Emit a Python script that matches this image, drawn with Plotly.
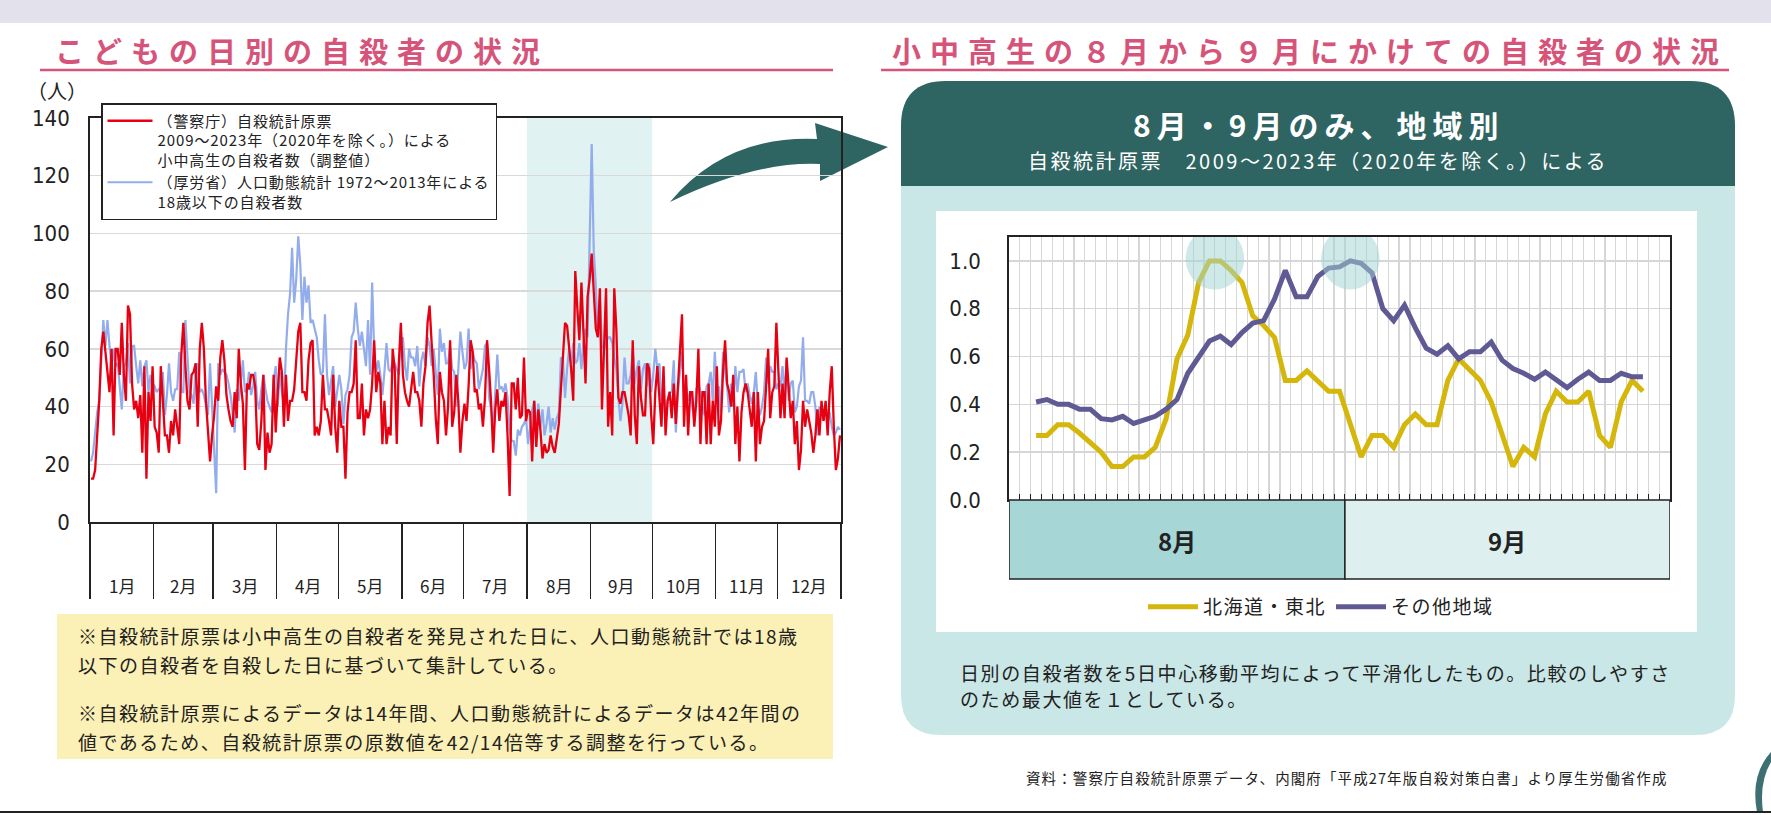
import numpy as np
import plotly.graph_objects as go

W, H = 1771, 815

# ---- left chart: daily suicides of children (Jan 1 .. Dec 31, leap year) ----
month_labels = ["1月", "2月", "3月", "4月", "5月", "6月",
                "7月", "8月", "9月", "10月", "11月", "12月"]
month_days = [31, 29, 31, 30, 31, 30, 31, 31, 30, 31, 30, 31]

# (警察庁) 自殺統計原票 2009-2023, adjusted
police_daily = [
    15, 15, 18, 31, 42, 60, 66, 59, 51, 45, 60, 30, 60, 60, 51, 69, 51, 42, 75, 72,
    48, 39, 42, 36, 44, 24, 54, 15, 45, 35, 54, 33, 31, 24, 54, 40, 30, 30, 24, 35,
    30, 39, 33, 27, 58, 69, 54, 42, 39, 51, 52, 55, 33, 60, 69, 60, 42, 33, 21, 30,
    37, 47, 42, 57, 63, 56, 44, 39, 35, 33, 45, 36, 60, 48, 41, 18, 48, 46, 51, 51,
    47, 27, 25, 35, 51, 18, 31, 24, 27, 51, 31, 45, 57, 52, 33, 51, 35, 42, 42, 46,
    56, 66, 69, 45, 45, 42, 56, 62, 63, 30, 33, 30, 35, 51, 39, 39, 35, 30, 51, 33,
    24, 42, 33, 33, 15, 38, 45, 45, 48, 63, 36, 36, 48, 30, 39, 36, 39, 48, 63, 45,
    52, 48, 27, 42, 27, 33, 30, 60, 53, 27, 55, 69, 51, 45, 42, 40, 46, 52, 45, 45,
    42, 33, 48, 54, 69, 75, 62, 51, 36, 27, 52, 45, 42, 30, 40, 63, 33, 38, 51, 42,
    24, 35, 41, 35, 47, 63, 59, 45, 46, 39, 41, 33, 43, 63, 53, 41, 24, 39, 46, 35,
    42, 40, 45, 30, 9, 48, 48, 39, 50, 36, 37, 57, 35, 39, 38, 21, 42, 26, 39, 32,
    22, 27, 24, 25, 30, 26, 24, 29, 34, 46, 60, 69, 68, 61, 53, 42, 87, 74, 63, 83,
    67, 48, 78, 84, 93, 82, 67, 64, 81, 39, 62, 81, 33, 45, 30, 81, 67, 43, 41, 45,
    45, 41, 37, 30, 63, 37, 27, 54, 43, 37, 37, 55, 53, 37, 27, 45, 54, 43, 33, 54,
    30, 42, 45, 36, 48, 34, 49, 59, 72, 33, 51, 30, 45, 45, 33, 42, 60, 27, 45, 45,
    27, 48, 27, 42, 33, 54, 30, 35, 52, 63, 48, 45, 40, 51, 27, 40, 21, 38, 45, 48,
    45, 38, 33, 45, 21, 45, 27, 33, 35, 47, 60, 36, 45, 47, 69, 52, 36, 48, 36, 57,
    45, 36, 42, 27, 35, 18, 25, 42, 33, 39, 35, 31, 24, 30, 39, 30, 42, 35, 42, 30,
    45, 54, 33, 18, 22, 30,
]

# (厚労省) 人口動態統計 1972-2013, age 18 and under
vital_daily = [
    21, 24, 31, 38, 42, 59, 70, 61, 70, 61, 54, 60, 54, 55, 46, 39, 54, 55, 62, 48,
    61, 61, 54, 48, 56, 47, 54, 56, 45, 51, 48, 47, 45, 46, 45, 52, 37, 44, 55, 45,
    42, 46, 46, 59, 45, 45, 70, 55, 45, 44, 41, 54, 55, 45, 46, 44, 40, 37, 55, 40,
    24, 10, 55, 51, 53, 52, 51, 48, 44, 38, 31, 46, 42, 48, 56, 45, 46, 52, 44, 47,
    52, 42, 39, 46, 51, 46, 42, 40, 38, 49, 54, 40, 52, 45, 40, 60, 72, 79, 95, 76,
    84, 99, 89, 70, 85, 76, 82, 69, 70, 67, 64, 56, 51, 52, 72, 51, 44, 49, 54, 40,
    45, 51, 46, 34, 44, 46, 51, 64, 66, 76, 67, 61, 66, 59, 54, 70, 51, 83, 59, 52,
    56, 51, 44, 52, 62, 53, 52, 56, 55, 53, 51, 63, 64, 54, 49, 60, 57, 57, 54, 61,
    47, 56, 59, 54, 64, 61, 54, 60, 52, 44, 67, 59, 62, 55, 55, 61, 53, 52, 40, 52,
    66, 59, 53, 55, 67, 53, 59, 56, 55, 46, 50, 53, 61, 62, 43, 39, 32, 46, 58, 46,
    47, 45, 48, 43, 32, 28, 28, 23, 32, 30, 33, 34, 36, 27, 34, 39, 42, 32, 41, 33,
    39, 30, 34, 40, 31, 36, 32, 36, 38, 57, 56, 43, 53, 60, 55, 62, 55, 56, 62, 53,
    62, 67, 64, 93, 131, 94, 82, 64, 77, 61, 60, 62, 64, 64, 62, 57, 53, 43, 35, 41,
    57, 48, 48, 51, 60, 48, 53, 56, 46, 53, 55, 47, 55, 45, 51, 60, 53, 55, 42, 46,
    35, 42, 45, 45, 56, 31, 45, 52, 59, 45, 47, 42, 45, 40, 35, 46, 48, 45, 40, 37,
    47, 48, 52, 42, 59, 45, 47, 38, 59, 52, 47, 38, 48, 40, 54, 45, 52, 52, 53, 45,
    48, 44, 41, 45, 52, 40, 37, 40, 45, 57, 48, 54, 52, 52, 46, 48, 47, 54, 44, 56,
    42, 48, 49, 38, 40, 47, 49, 64, 42, 42, 41, 45, 45, 40, 30, 40, 37, 35, 40, 35,
    38, 33, 30, 31, 33, 32,
]

# ---- right chart: Aug-Sep, 5-day centred moving average, max = 1 ----
period_labels = ["8月", "9月"]
period_days = [31, 30]
window = 5
hokkaido_tohoku = [
    0.27, 0.27, 0.315, 0.315, 0.28, 0.24, 0.20, 0.14, 0.14, 0.18,
    0.18, 0.22, 0.34, 0.59, 0.69, 0.91, 1.0, 1.0, 0.96, 0.91,
    0.77, 0.73, 0.68, 0.50, 0.50, 0.54, 0.50, 0.455, 0.455, 0.32,
    0.18, 0.27, 0.27, 0.22, 0.315, 0.36, 0.315, 0.315, 0.50, 0.59,
    0.545, 0.50, 0.41, 0.28, 0.14, 0.22, 0.18, 0.36, 0.455, 0.41,
    0.41, 0.455, 0.27, 0.22, 0.41, 0.50, 0.455,
]
other_regions = [
    0.41, 0.42, 0.40, 0.40, 0.38, 0.38, 0.34, 0.335, 0.35, 0.32,
    0.335, 0.35, 0.38, 0.42, 0.53, 0.60, 0.665, 0.685, 0.65, 0.70,
    0.74, 0.75, 0.84, 0.96, 0.85, 0.85, 0.935, 0.97, 0.975, 1.0,
    0.99, 0.95, 0.80, 0.75, 0.815, 0.72, 0.635, 0.61, 0.645, 0.59,
    0.62, 0.62, 0.66, 0.585, 0.55, 0.53, 0.505, 0.535, 0.505, 0.47,
    0.505, 0.535, 0.50, 0.50, 0.53, 0.515, 0.515,
]

JP = "Noto Sans CJK JP, sans-serif"
NARROW = "Liberation Sans Narrow, DejaVu Sans Condensed, sans-serif"
PINK = "#D6547A"
TEAL_DARK = "#2E6461"


def ls(text, px):
    # letter spaced text, line by line
    return "<br>".join('<span style="letter-spacing:%spx">%s</span>' % (px, t)
                       for t in text.split("<br>"))


def rounded(x0, y0, x1, y1, rt, rb, top_only=False):
    p = "M%s,%s Q%s,%s %s,%s L%s,%s Q%s,%s %s,%s " % (
        x0, y0 + rt, x0, y0, x0 + rt, y0, x1 - rt, y0, x1, y0, x1, y0 + rt)
    if top_only:
        return p + "L%s,%s L%s,%s Z" % (x1, y1, x0, y1)
    return p + "L%s,%s Q%s,%s %s,%s L%s,%s Q%s,%s %s,%s Z" % (
        x1, y1 - rb, x1, y1, x1 - rb, y1, x0 + rb, y1, x0, y1, x0, y1 - rb)


bounds = np.concatenate([[0], np.cumsum(month_days)])
day_x = np.arange(len(police_daily)) + 0.5

p_bounds = np.concatenate([[0], np.cumsum(period_days)]) + 0.5
first_day = window // 2 + 1
rx = first_day + np.arange(len(hokkaido_tohoku))

fig = go.Figure()

# canvas axis (pixel coordinates) for decorations
fig.add_trace(go.Scatter(x=[0], y=[0], xaxis="x", yaxis="y", mode="markers",
                         marker=dict(opacity=0), showlegend=False, hoverinfo="skip"))

fig.add_trace(go.Scatter(x=day_x, y=vital_daily, xaxis="x2", yaxis="y2", mode="lines",
                         line=dict(color="#93ACEB", width=2.2), legend="legend", legendrank=2,
                         name=ls("（厚労省）人口動態統計 1972～2013年による<br>18歳以下の自殺者数", 0.9)))
fig.add_trace(go.Scatter(x=day_x, y=police_daily, xaxis="x2", yaxis="y2", mode="lines",
                         line=dict(color="#E60012", width=2.3), legend="legend", legendrank=1,
                         name=ls("（警察庁）自殺統計原票<br>2009～2023年（2020年を除く。）による<br>"
                                 "小中高生の自殺者数（調整値）", 0.9)))

fig.add_trace(go.Scatter(x=rx, y=hokkaido_tohoku, xaxis="x3", yaxis="y3", mode="lines",
                         line=dict(color="#D5B60A", width=5), legend="legend2",
                         name=ls("北海道・東北", 1.5)))
fig.add_trace(go.Scatter(x=rx, y=other_regions, xaxis="x3", yaxis="y3", mode="lines",
                         line=dict(color="#5F5A94", width=5), legend="legend2",
                         name=ls("その他地域", 1.5)))

shapes = [
    dict(type="rect", x0=0, y0=0, x1=W, y1=23, fillcolor="#E3E2EC"),
    dict(type="line", x0=40, y0=70, x1=833, y1=70, line=dict(color=PINK, width=2.5)),
    dict(type="line", x0=881, y0=70, x1=1729, y1=70, line=dict(color=PINK, width=2.5)),
    dict(type="rect", x0=57, y0=614, x1=833, y1=759, fillcolor="#FBF0B5"),
    dict(type="path", path=rounded(901, 81, 1735, 735, 45, 40), fillcolor="#C9E7E6"),
    dict(type="path", path=rounded(901, 81, 1735, 186, 45, 0, top_only=True), fillcolor=TEAL_DARK),
    dict(type="rect", x0=936, y0=211, x1=1697, y1=632, fillcolor="white"),
    dict(type="path", path="M670,202 Q726,135 817,139 L815,123 L888,147 L820,181 "
                           "L820,164 Q755,161 670,202 Z", fillcolor=TEAL_DARK),
    dict(type="path", path="M1771,752 Q1750,775 1757,812 L1763,812 Q1759,782 1771,762 Z",
         fillcolor="#3E6F73"),
    dict(type="line", x0=0, y0=812, x1=W, y1=812, line=dict(color="#222", width=2)),
]
for s in shapes:
    s.update(xref="x", yref="y", layer="below")
    s.setdefault("line", dict(width=0))

# Aug-Sep shading in left chart
shapes.append(dict(type="rect", xref="x2", yref="y2", layer="below",
                   x0=bounds[7], x1=bounds[9], y0=0, y1=140,
                   fillcolor="#E1F2F2", line=dict(width=0)))

# month boxes under right chart
for i, c in enumerate(["#A6D6D5", "#DDF0EF"]):
    shapes.append(dict(type="rect", xref="x3", yref="y", layer="above",
                       x0=p_bounds[i], x1=p_bounds[i + 1], y0=500, y1=579,
                       fillcolor=c, line=dict(color="#222", width=1.5)))

# peak highlights
for series in [hokkaido_tohoku, other_regions]:
    arr = np.array(series)
    cx = rx[arr == arr.max()].mean()
    cy = arr.max() + 0.01
    shapes.append(dict(type="circle", xref="x3", yref="y3", layer="above",
                       x0=cx - 2.7, x1=cx + 2.7, y0=cy - 0.13, y1=cy + 0.13,
                       fillcolor="#9FD3D2", opacity=0.5, line=dict(width=0)))

ann = []


def txt(x, y, text, size, color="#222", anchor="left", **kw):
    d = dict(x=x, y=y, xref="x", yref="y", text=text, showarrow=False,
             xanchor=anchor, yanchor="middle", font=dict(family=JP, size=size, color=color))
    d.update(kw)
    ann.append(d)


txt(53, 50, "<b>" + ls("こどもの日別の自殺者の状況", 9) + "</b>", 29, PINK)
txt(890, 50, "<b>" + ls("小中高生の８月から９月にかけての自殺者の状況", 9) + "</b>", 29, PINK)
txt(57, 90, "（人）", 20, anchor="center")
txt(76, 635, ls("※自殺統計原票は小中高生の自殺者を発見された日に、人口動態統計では18歳", 1.5), 19)
txt(76, 664, ls("以下の自殺者を自殺した日に基づいて集計している。", 1.5), 19)
txt(76, 712, ls("※自殺統計原票によるデータは14年間、人口動態統計によるデータは42年間の", 1.5), 19)
txt(76, 741, ls("値であるため、自殺統計原票の原数値を42/14倍等する調整を行っている。", 1.5), 19)
txt(1318, 124, "<b>" + ls("8月・9月のみ、地域別", 6) + "</b>", 30, "white", anchor="center")
txt(1318, 160, ls("自殺統計原票　2009～2023年（2020年を除く。）による", 2.5), 20, "white", anchor="center")
txt(958, 672, ls("日別の自殺者数を5日中心移動平均によって平滑化したもの。比較のしやすさ", 1.6), 19)
txt(958, 698, ls("のため最大値を１としている。", 1.6), 19)
txt(1670, 777, ls("資料：警察庁自殺統計原票データ、内閣府「平成27年版自殺対策白書」より厚生労働省作成", 1.1),
    14.5, anchor="right")

for i, lab in enumerate(month_labels):
    ann.append(dict(x=(bounds[i] + bounds[i + 1]) / 2, y=585, xref="x2", yref="y", text=lab,
                    showarrow=False, font=dict(family=JP, size=17, color="#222")))
for i, lab in enumerate(period_labels):
    ann.append(dict(x=(p_bounds[i] + p_bounds[i + 1]) / 2, y=540, xref="x3", yref="y",
                    text="<b>" + lab + "</b>", showarrow=False,
                    font=dict(family=JP, size=24, color="#222")))

fig.update_layout(
    width=W, height=H, autosize=False,
    margin=dict(l=0, r=0, t=0, b=0, pad=0, autoexpand=False),
    paper_bgcolor="white", plot_bgcolor="rgba(0,0,0,0)",
    font=dict(family=JP, color="#222"),
    xaxis=dict(domain=[0, 1], range=[0, W], visible=False, fixedrange=True, automargin=False),
    yaxis=dict(domain=[0, 1], range=[H, 0], visible=False, fixedrange=True, automargin=False),
    xaxis2=dict(domain=[90 / W, 841 / W], anchor="y2", range=[0, bounds[-1]], automargin=False,
                tickmode="array", tickvals=bounds, ticks="outside", ticklen=75,
                tickwidth=1.3, tickcolor="#222", showticklabels=False, showgrid=False,
                showline=True, linecolor="#222", linewidth=1.8, mirror=True, zeroline=False),
    yaxis2=dict(domain=[1 - 522 / H, 1 - 118 / H], anchor="x2", range=[0, 140], automargin=False,
                tick0=0, dtick=20, showgrid=True, gridcolor="#D9D9D9", gridwidth=1.5,
                showline=True, linecolor="#222", linewidth=1.8, mirror=True, zeroline=False,
                ticks="", ticklabelstandoff=14, tickfont=dict(family=NARROW, size=22, color="#222")),
    xaxis3=dict(domain=[1009 / W, 1670 / W], anchor="y3", range=[p_bounds[0], p_bounds[-1]],
                automargin=False,
                tickmode="linear", tick0=p_bounds[0], dtick=1, ticks="inside", ticklen=6,
                tickwidth=1, tickcolor="#222", showticklabels=False, showgrid=True,
                gridcolor="#D6D6D6", gridwidth=1.2, showline=True, linecolor="#222",
                linewidth=1.8, mirror=True, zeroline=False),
    yaxis3=dict(domain=[1 - 500 / H, 1 - 237 / H], anchor="x3", range=[0, 1.1], automargin=False,
                tickmode="array", tickvals=[0, 0.2, 0.4, 0.6, 0.8, 1.0],
                ticktext=["%.1f" % v for v in [0, 0.2, 0.4, 0.6, 0.8, 1.0]],
                showgrid=True, gridcolor="#D6D6D6", gridwidth=1.5, showline=True,
                linecolor="#222", linewidth=1.8, mirror=True, zeroline=False, ticks="",
                ticklabelstandoff=22, tickfont=dict(family=NARROW, size=22, color="#222")),
    legend=dict(x=101 / W, y=1 - 103 / H, xanchor="left", yanchor="top", bgcolor="white",
                bordercolor="#222", borderwidth=1.5, valign="top", tracegroupgap=0,
                itemwidth=45, font=dict(family=JP, size=15, color="#222")),
    legend2=dict(orientation="h", x=1321 / W, y=1 - 607 / H, xanchor="center",
                 yanchor="middle", bgcolor="rgba(0,0,0,0)", itemwidth=50,
                 font=dict(family=JP, size=19, color="#222")),
    shapes=shapes,
    annotations=ann,
    hovermode=False,
)

fig.write_html("out.html", config={"displayModeBar": False, "staticPlot": True},
               post_script="document.documentElement.style.margin='0';"
                           "document.body.style.margin='0';"
                           "document.body.style.overflow='hidden';"
                           "var d=document.getElementsByClassName('plotly-graph-div')[0];"
                           "d.style.position='fixed';d.style.left='0';d.style.top='0';")
